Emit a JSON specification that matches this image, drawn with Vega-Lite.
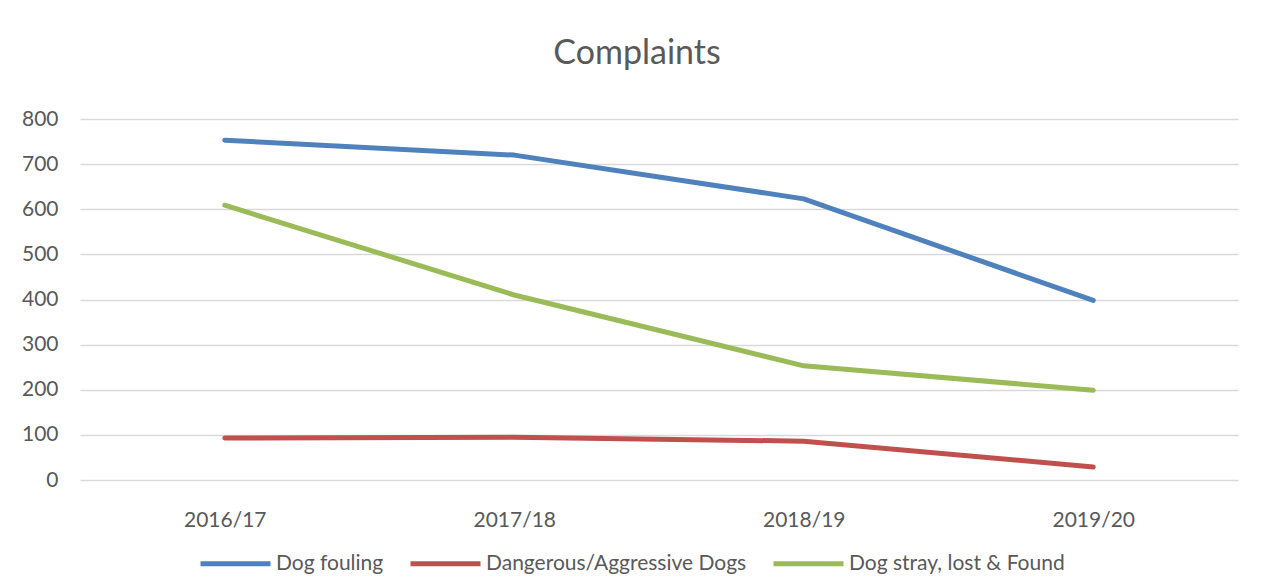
{
  "$schema": "https://vega.github.io/schema/vega-lite/v6.json",
  "width": 1158,
  "height": 361,
  "autosize": {"type": "none"},
  "padding": {"left": 80, "top": 119, "right": 27, "bottom": 100},
  "background": "white",
  "title": {"text": "Complaints", "fontSize": 34, "font": "Lato", "fontWeight": "normal", "color": "#595959", "anchor": "middle", "dx": -22, "offset": 37},
  "data": {"values": [
    {"year": "2016/17", "series": "Dog fouling", "value": 753},
    {"year": "2017/18", "series": "Dog fouling", "value": 720},
    {"year": "2018/19", "series": "Dog fouling", "value": 623},
    {"year": "2019/20", "series": "Dog fouling", "value": 398},
    {"year": "2016/17", "series": "Dangerous/Aggressive Dogs", "value": 93},
    {"year": "2017/18", "series": "Dangerous/Aggressive Dogs", "value": 95},
    {"year": "2018/19", "series": "Dangerous/Aggressive Dogs", "value": 86},
    {"year": "2019/20", "series": "Dangerous/Aggressive Dogs", "value": 29},
    {"year": "2016/17", "series": "Dog stray, lost & Found", "value": 609},
    {"year": "2017/18", "series": "Dog stray, lost & Found", "value": 410},
    {"year": "2018/19", "series": "Dog stray, lost & Found", "value": 253},
    {"year": "2019/20", "series": "Dog stray, lost & Found", "value": 199}
  ]},
  "mark": {"type": "line", "strokeWidth": 5, "strokeCap": "round", "strokeJoin": "round"},
  "encoding": {
    "x": {"field": "year", "type": "ordinal", "title": null,
      "scale": {"type": "point", "padding": 0.5},
      "axis": {"labelAngle": 0, "domain": false, "ticks": false, "grid": false, "labelPadding": 29, "labelFontSize": 21, "labelFont": "Lato", "labelColor": "#595959"}},
    "y": {"field": "value", "type": "quantitative", "title": null,
      "scale": {"domain": [0, 800], "nice": false},
      "axis": {"values": [0,100,200,300,400,500,600,700,800], "domain": false, "ticks": false, "gridColor": "#d9d9d9", "gridWidth": 1.3, "labelPadding": 22, "labelFontSize": 21, "labelFont": "Lato", "labelColor": "#595959"}},
    "color": {"field": "series", "type": "nominal", "title": null,
      "scale": {"domain": ["Dog fouling", "Dangerous/Aggressive Dogs", "Dog stray, lost & Found"], "range": ["#4F81BD", "#C0504D", "#9BBB59"]},
      "legend": {"orient": "none", "legendX": 118, "legendY": 407, "direction": "horizontal", "symbolType": "stroke", "symbolSize": 4900, "symbolStrokeWidth": 5, "labelFontSize": 21, "labelFont": "Lato", "labelColor": "#595959", "labelLimit": 0, "columnPadding": 16, "labelOffset": 3}}
  },
  "config": {"view": {"stroke": null}}
}
